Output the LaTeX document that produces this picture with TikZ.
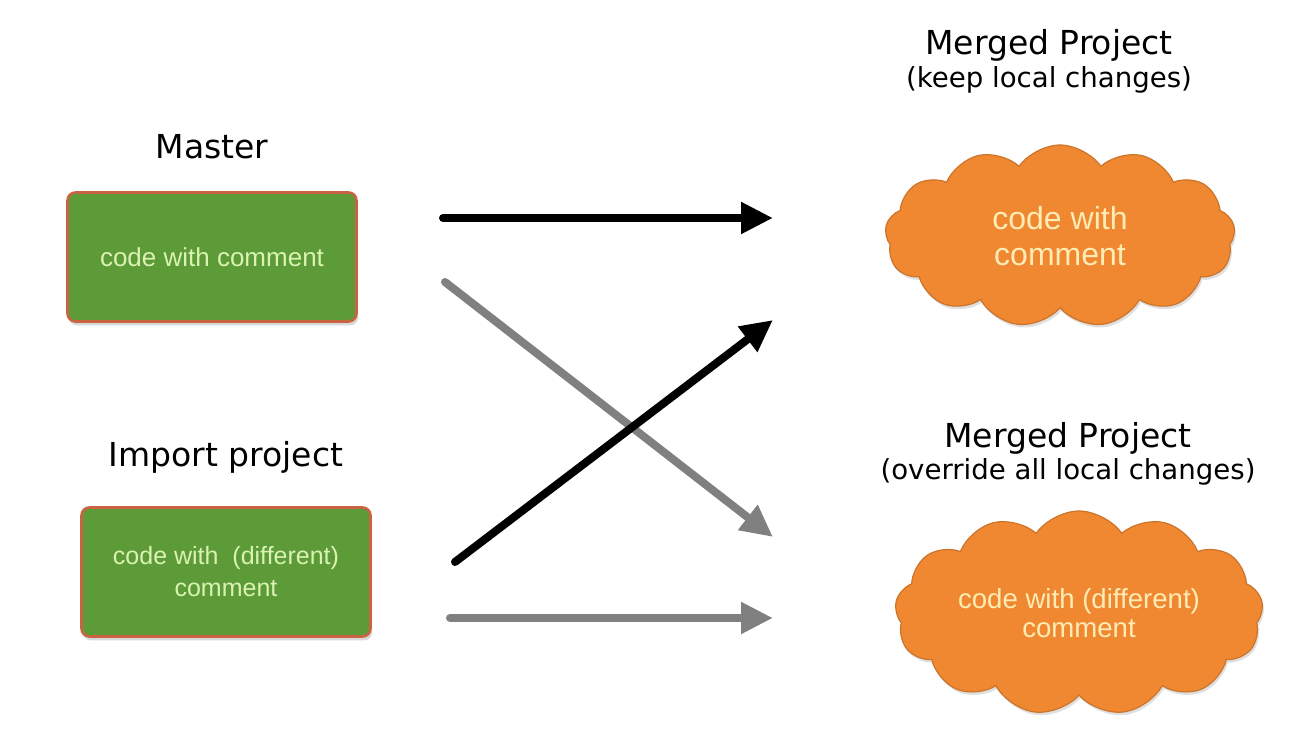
\documentclass[tikz,border=0pt]{standalone}
\usepackage{fontspec}
\setmainfont{Liberation Sans}
\newfontfamily\titlefont{DejaVu Sans}
\usepackage{tikz}
\usetikzlibrary{shapes,shapes.symbols,arrows,arrows.meta,shadows}

\definecolor{boxgreen}{RGB}{92,155,55}
\definecolor{boxborder}{RGB}{200,100,65}
\definecolor{boxtext}{RGB}{218,242,178}
\definecolor{cloudorange}{RGB}{240,136,50}
\definecolor{cloudtext}{RGB}{255,236,180}
\definecolor{arrowgray}{RGB}{128,128,128}

\begin{document}
\begin{tikzpicture}[
  x=0.5pt,
  y=-0.5pt
]

  \path[use as bounding box] (0,0) rectangle (1292,748);

  \tikzstyle{codebox}=[draw=boxborder,rectangle,rounded corners=4pt,fill=boxgreen,line width=1.3pt,minimum width=144.5pt,minimum height=64.5pt,align=center,text=boxtext,drop shadow={opacity=0.3,shadow xshift=0.8pt,shadow yshift=-2pt}]
  \tikzstyle{mergecloud}=[cloud,cloud ignores aspect,cloud puffs=13,cloud puff arc=110,inner sep=0pt,draw=cloudorange!85!black,fill=cloudorange,line width=0.6pt,align=center,text=cloudtext,drop shadow={opacity=0.25,shadow xshift=0.8pt,shadow yshift=-1.5pt}]
  \tikzstyle{titlenode}=[font=\titlefont\fontsize{16.5}{20}\selectfont]
  \tikzstyle{subtitlenode}=[font=\titlefont\fontsize{13.8}{16}\selectfont]
  \tikzstyle{blackarrow}=[draw,black,line width=4pt,line cap=round,-{Triangle[length=16pt,width=15pt]}]
  \tikzstyle{grayarrow}=[blackarrow,draw=arrowgray]


  % nodes
  \node[codebox,font=\fontsize{13}{16}\selectfont] (master) at (212,257) {code with comment};
  \node[titlenode,node distance=55pt] (masterlab) [above of=master] {Master};

  \node[codebox,font=\fontsize{12.5}{16}\selectfont] (import) at (226,572) {code with\ \ (different)\\comment};
  \node[titlenode,node distance=57.5pt] (importlab) [above of=import] {Import project};

  \node[mergecloud,minimum width=175pt,minimum height=91pt,font=\fontsize{16}{18}\selectfont] (keep) at (1060,236) {code with\\comment};
  \node[titlenode] (keeplab) at (1049,45) {Merged Project};
  \node[subtitlenode,node distance=17.5pt] (keepsub) [below of=keeplab] {(keep local changes)};

  \node[mergecloud,minimum width=184pt,minimum height=102pt,font=\fontsize{13.8}{14.5}\selectfont] (override) at (1079,613) {code with (different)\\comment};
  \node[titlenode] (overridelab) at (1068,438) {Merged Project};
  \node[subtitlenode,node distance=17pt] (overridesub) [below of=overridelab] {(override all local changes)};

  % arrow ends
  \coordinate (keepfrom)  at (443,218);
  \coordinate (keepto)    at (773,218);
  \coordinate (crossfrom) at (445,282);
  \coordinate (crossto)   at (773,537);
  \coordinate (upfrom)    at (455,562);
  \coordinate (upto)      at (773,320);
  \coordinate (overfrom)  at (450,618);
  \coordinate (overto)    at (773,618);

  % arrows
  \draw[blackarrow] (keepfrom)  -- (keepto);
  \draw[grayarrow]  (crossfrom) -- (crossto);
  \draw[blackarrow] (upfrom)    -- (upto);
  \draw[grayarrow]  (overfrom)  -- (overto);

\end{tikzpicture}
\end{document}
